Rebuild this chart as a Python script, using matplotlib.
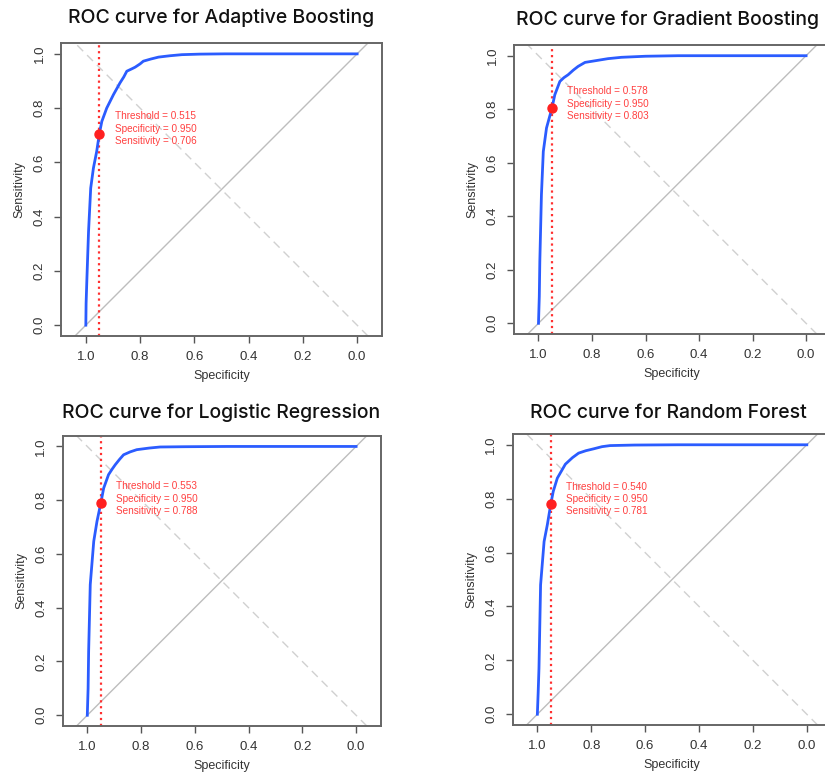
import numpy as np
import matplotlib
matplotlib.use('Agg')
import matplotlib.pyplot as plt

# ---- data (specificity, sensitivity)
models = ['Adaptive Boosting', 'Gradient Boosting', 'Logistic Regression', 'Random Forest']
thresholds = [0.515, 0.578, 0.553, 0.540]
spec_cut = [0.950, 0.950, 0.950, 0.950]
sens_cut = [0.706, 0.803, 0.788, 0.781]

ada_spec = [1.0, 0.999, 0.996, 0.990, 0.982, 0.972, 0.960, 0.950, 0.941, 0.923, 0.898, 0.874, 0.860, 0.849, 0.830, 0.818, 0.800, 0.788, 0.760, 0.732, 0.690, 0.646, 0.580, 0.487, 0.0]
ada_sens = [0.0, 0.080, 0.172, 0.345, 0.505, 0.579, 0.640, 0.706, 0.751, 0.800, 0.850, 0.893, 0.915, 0.936, 0.945, 0.951, 0.963, 0.973, 0.981, 0.988, 0.993, 0.997, 0.999, 1.0, 1.0]

gb_spec = [1.0, 0.997, 0.995, 0.989, 0.982, 0.970, 0.950, 0.939, 0.920, 0.905, 0.889, 0.870, 0.852, 0.826, 0.789, 0.740, 0.690, 0.600, 0.478, 0.0]
gb_sens = [0.0, 0.100, 0.231, 0.480, 0.642, 0.730, 0.803, 0.854, 0.904, 0.918, 0.929, 0.946, 0.960, 0.975, 0.981, 0.989, 0.994, 0.998, 1.0, 1.0]

lr_spec = [1.0, 0.997, 0.995, 0.989, 0.976, 0.964, 0.950, 0.939, 0.921, 0.908, 0.896, 0.880, 0.865, 0.840, 0.816, 0.770, 0.729, 0.640, 0.478, 0.0]
lr_sens = [0.0, 0.100, 0.238, 0.486, 0.647, 0.721, 0.788, 0.845, 0.895, 0.915, 0.932, 0.952, 0.969, 0.980, 0.988, 0.994, 0.998, 0.999, 1.0, 1.0]

rf_spec = [1.0, 0.997, 0.994, 0.988, 0.975, 0.963, 0.950, 0.941, 0.926, 0.896, 0.870, 0.847, 0.820, 0.791, 0.760, 0.730, 0.640, 0.478, 0.0]
rf_sens = [0.0, 0.080, 0.171, 0.480, 0.641, 0.703, 0.781, 0.827, 0.876, 0.928, 0.952, 0.969, 0.978, 0.985, 0.993, 0.997, 0.999, 1.0, 1.0]

curves = [(ada_spec, ada_sens), (gb_spec, gb_sens), (lr_spec, lr_sens), (rf_spec, rf_sens)]

# panel boxes in pixels: left, top, height (width follows asp=1)
boxes = [(61, 43, 293), (514, 45, 289), (62.7, 435.7, 290.3), (512.7, 434, 291)]
title_pos = [(221, 18), (668, 20), (221, 413), (668, 413)]

W, H = 825, 778
fig = plt.figure(figsize=(W / 100, H / 100), dpi=100)
tick_font = ['Liberation Sans', 'DejaVu Sans']

for i in range(4):
    l, t, h = boxes[i]
    w = h / 1.08 * 1.183
    ax = fig.add_axes([l / W, 1 - (t + h) / H, w / W, h / H])
    ax.set_xlim(1.0915, -0.0915)
    ax.set_ylim(-0.04, 1.04)

    ax.axline((0, 0), (1, 1), color='#d0d0d0', lw=1, dashes=(6, 4), zorder=1)
    ax.axline((1, 0), (0, 1), color='#bdbdbd', lw=1, zorder=1)

    spec, sens = curves[i]
    ax.plot(spec, sens, color='#2b5cff', lw=2, zorder=3)
    ax.axvline(spec_cut[i], color='#ff3030', ls=':', lw=1.6, zorder=2)
    ax.plot(spec_cut[i], sens_cut[i], 'o', color='#ff2020', ms=6.5, zorder=4)
    txt = 'Threshold = %.3f\nSpecificity = %.3f\nSensitivity = %.3f' % (thresholds[i], spec_cut[i], sens_cut[i])
    ax.text(0.893, sens_cut[i] + 0.018, txt, color='#ff4040', fontsize=7.2,
            family=tick_font, ha='left', va='center', linespacing=1.3, zorder=5)

    ax.set_xticks([1.0, 0.8, 0.6, 0.4, 0.2, 0.0])
    ax.set_xticklabels(['1.0', '0.8', '0.6', '0.4', '0.2', '0.0'])
    ax.set_yticks([0.0, 0.2, 0.4, 0.6, 0.8, 1.0])
    ax.set_yticklabels(['0.0', '0.2', '0.4', '0.6', '0.8', '1.0'])
    ax.tick_params(length=5, width=1, color='#555555', labelsize=9.5, labelcolor='#333333', pad=6)
    for lab in ax.get_yticklabels():
        lab.set_rotation(90)
        lab.set_va('center')
        lab.set_ha('right')
    for lab in ax.get_xticklabels() + ax.get_yticklabels():
        lab.set_family(tick_font)
    for s in ax.spines.values():
        s.set_color('#666666')
        s.set_linewidth(1.4)

    ax.set_xlabel('Specificity', fontsize=9, color='#333333', family=tick_font, labelpad=5)
    ax.set_ylabel('Sensitivity', fontsize=9, color='#333333', family=tick_font, labelpad=6)

    tx, ty = title_pos[i]
    fig.text(tx / W, 1 - ty / H, 'ROC curve for ' + models[i], fontsize=14, fontweight='medium',
             family=['Inter', 'DejaVu Sans'], ha='center', va='center', color='#111111')

fig.savefig('out.png', dpi=100)
